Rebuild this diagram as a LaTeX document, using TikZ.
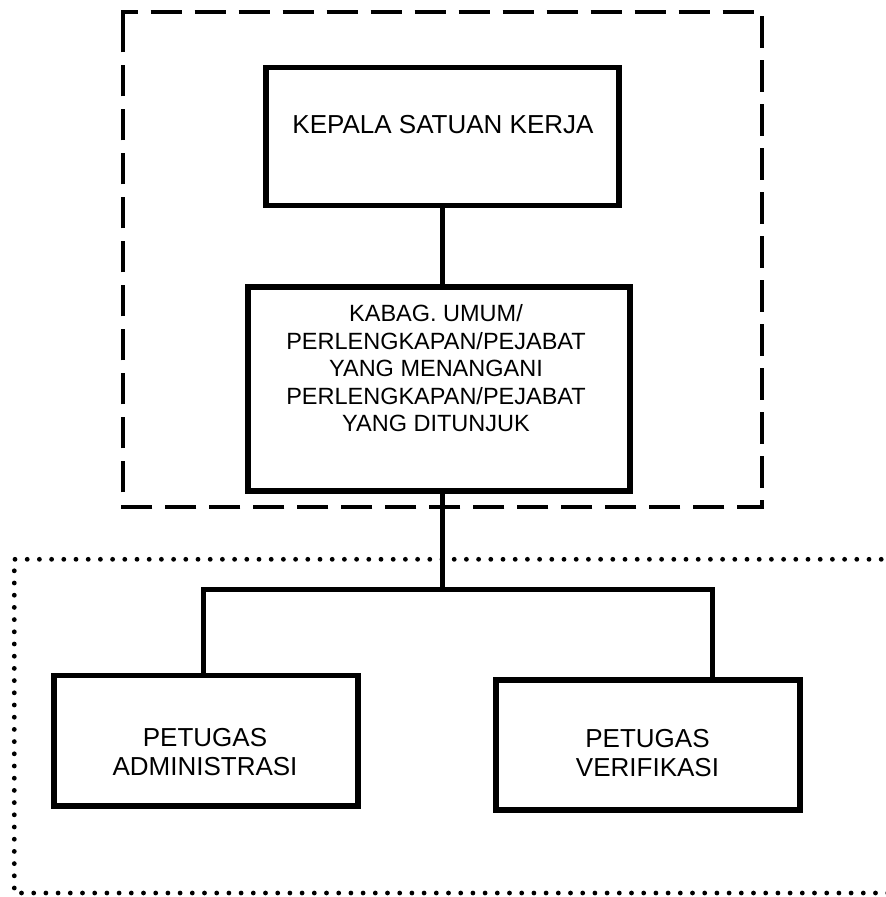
\documentclass[tikz,border=0pt]{standalone}
\usepackage{fontspec}
\setmainfont{Liberation Sans}
\begin{document}
\begin{tikzpicture}[x=1pt,y=-1pt,
  box/.style={draw=black,line width=5.5pt,inner sep=0pt},
  link/.style={draw=black,line width=5pt},
  lbl/.style={inner sep=0pt,anchor=base,align=center},
  frameA/.style={draw=black,line width=4pt,dash pattern=on 31.7pt off 12.3pt},
  frameB/.style={draw=black,line width=4.8pt,line cap=round,dash pattern=on 0pt off 12.2pt}]
\useasboundingbox (0,0) rectangle (886,897);
\clip (0,0) rectangle (886,897);

% group frames
\draw[frameA] (122.7,27.7) -- (122.7,11.7) -- (762,11.7) -- (762,506.7) -- (122.7,506.7) -- cycle;
\draw[frameB] (930,559.3) -- (14.3,559.3) -- (14.3,893) -- (930,893);

% boxes
\node[box,minimum width=353pt,minimum height=138pt] (kepala) at (442.5,136.5) {};
\node[box,minimum width=382pt,minimum height=204pt] (kabag) at (439,389) {};
\node[box,minimum width=304pt,minimum height=130.5pt] (admin) at (206,740.75) {};
\node[box,minimum width=304pt,minimum height=130pt] (verif) at (648,745) {};

% labels
\node[lbl,font=\fontsize{26}{30}\selectfont] (tk) at (443,133.3) {KEPALA SATUAN KERJA};
\begin{scope}[every node/.style={lbl,font=\fontsize{23.5}{28}\selectfont}]
  \node (tb1) at (436,321.7) {KABAG. UMUM/};
  \node (tb2) at (436,349.2) {PERLENGKAPAN/PEJABAT};
  \node (tb3) at (436,376.7) {YANG MENANGANI};
  \node (tb4) at (436,404.2) {PERLENGKAPAN/PEJABAT};
  \node (tb5) at (436,431.7) {YANG DITUNJUK};
\end{scope}
\begin{scope}[every node/.style={lbl,font=\fontsize{26}{30}\selectfont}]
  \node (ta1) at (205,746.7) {PETUGAS};
  \node (ta2) at (205,775.5) {ADMINISTRASI};
  \node (tv1) at (647.5,747.7) {PETUGAS};
  \node (tv2) at (647.5,776.5) {VERIFIKASI};
\end{scope}

% connectors
\coordinate (bus) at (442.7,589.3);
\coordinate (ajoin) at (203,589.3);
\coordinate (vjoin) at (712,589.3);
\draw[link] (kepala.south -| 442.7,0) -- (kabag.north -| 442.7,0);
\draw[link] (kabag.south -| bus) -- (bus);
\draw[link] (admin.north -| ajoin) -- (ajoin) -- (vjoin) -- (verif.north -| vjoin);
\end{tikzpicture}
\end{document}
